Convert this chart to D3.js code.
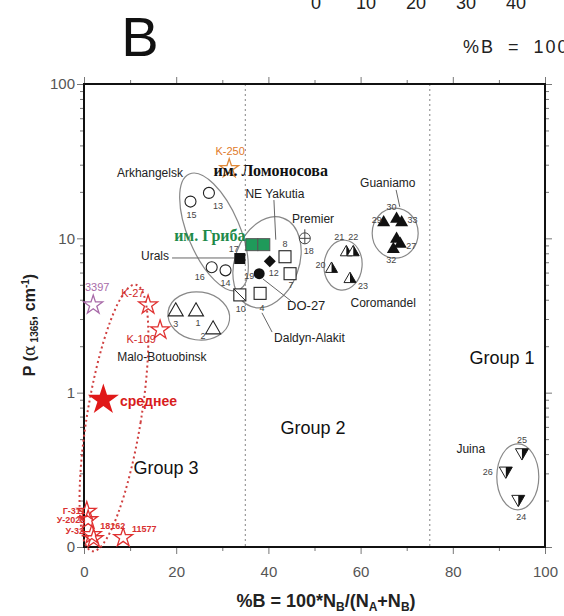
<!DOCTYPE html>
<html>
<head>
<meta charset="utf-8">
<script src="https://cdn.jsdelivr.net/npm/d3@7"></script>
<style>
  body { margin: 0; background: #fff; overflow: hidden; }
  svg { display: block; font-family: "Liberation Sans", Arial, sans-serif; }
</style>
</head>
<body>
<div id="chart"></div>
<script>
// --- DATOS ---
const xMajor = [0, 20, 40, 60, 80, 100];
const xMinor = [10, 30, 50, 70, 90];
const yMajor = [0.1, 1, 10, 100];
const yMajorLabels = ["0", "1", "10", "100"];
const groupBounds = [35, 75];
const headTicks = ["0", "10", "20", "30", "40"];

// kimberlite fields: id, %B, P
const arkhangelsk = [
  { id: "13", b: 27.1, p: 19.7 }, { id: "15", b: 23.1, p: 17.3 },
  { id: "16", b: 27.7, p: 6.5 }, { id: "14", b: 30.7, p: 6.2 }
];
const maloBotuobinsk = [
  { id: "3", b: 19.9, p: 3.4 }, { id: "1", b: 24.3, p: 3.4 }, { id: "2", b: 28.0, p: 2.6 }
];
const yakutiaOpen = [
  { id: "8", b: 43.6, p: 7.6 }, { id: "7", b: 44.7, p: 5.9 }, { id: "4", b: 38.2, p: 4.4 }
];
const yakutiaHalf = [{ id: "10", b: 33.8, p: 4.3 }];
const yakutiaGreen = [{ id: "", b: 36.4, p: 9.1 }, { id: "", b: 39.0, p: 9.1 }];
const urals = [{ id: "17", b: 33.8, p: 7.4 }];
const yakutiaDot = [{ id: "19", b: 38.0, p: 5.9 }];
const yakutiaDiamond = [{ id: "12", b: 40.3, p: 7.1 }];
const premier = [{ id: "18", b: 47.9, p: 10.0 }];
const coromandel = [
  { id: "21", b: 56.9, p: 8.2 }, { id: "22", b: 58.4, p: 8.2 },
  { id: "20", b: 53.7, p: 6.4 }, { id: "23", b: 57.7, p: 5.5 }
];
const guaniamo = [
  { id: "30", b: 67.8, p: 13.5 }, { id: "29", b: 65.0, p: 12.8 }, { id: "33", b: 68.9, p: 12.8 },
  { id: "", b: 67.8, p: 10.0 }, { id: "27", b: 68.6, p: 9.3 }, { id: "32", b: 67.1, p: 8.6 }
];
const juina = [
  { id: "25", b: 95.0, p: 0.405 }, { id: "26", b: 91.5, p: 0.308 }, { id: "24", b: 94.2, p: 0.202 }
];

// звёзды: отдельные образцы
const redStars = [
  { id: "K-27", b: 13.9, p: 3.7 }, { id: "K-109", b: 16.5, p: 2.55 },
  { id: "Г-311", b: 0.6, p: 0.17 }, { id: "У-2022", b: 0.9, p: 0.15 },
  { id: "У-32", b: 1.7, p: 0.12 }, { id: "18162", b: 2.1, p: 0.113 },
  { id: "11577", b: 8.5, p: 0.115 }
];
const purpleStars = [{ id: "3397", b: 2.0, p: 3.7 }];
const orangeStars = [{ id: "K-250", b: 31.5, p: 28.3 }];
const meanStar = [{ id: "среднее", b: 4.2, p: 0.90 }];

// --- ESCALAS ---
const W = 564, H = 616;
const x = d3.scaleLinear().domain([0, 100]).range([84, 545]);
const y = d3.scaleLog().domain([0.1, 100]).range([547, 84]);

const svg = d3.select("#chart").append("svg")
  .attr("width", W).attr("height", H);

// header remains from the neighbouring panel
svg.append("g").selectAll("text").data(headTicks).join("text")
  .attr("x", (d, i) => 316 + i * 50).attr("y", 9)
  .attr("text-anchor", "middle").attr("font-size", 18).attr("fill", "#222").text(d => d);
svg.append("text").attr("x", 463).attr("y", 53).attr("font-size", 18)
  .attr("fill", "#222").attr("letter-spacing", 2).attr("word-spacing", 6)
  .text("%B = 100*N");
svg.append("text").attr("x", 140).attr("y", 56).attr("font-size", 56)
  .attr("text-anchor", "middle").attr("fill", "#111").text("B");

// --- EJES ---
const minorY = [];
[0.1, 1, 10].forEach(d => { for (let k = 2; k <= 9; k++) minorY.push(d * k); });

function axisGroup(axis, tx, ty) {
  const g = svg.append("g").attr("transform", `translate(${tx},${ty})`).call(axis);
  g.select(".domain").remove();
  g.selectAll("line").attr("stroke", "#777");
  g.selectAll("text").attr("fill", "#555").attr("font-size", 15)
    .attr("font-family", "Liberation Sans, Arial, sans-serif");
  return g;
}
axisGroup(d3.axisBottom(x).tickValues(xMajor).tickSize(7).tickPadding(12).tickFormat(d3.format("d")), 0, 547);
axisGroup(d3.axisBottom(x).tickValues(xMinor).tickSize(4).tickFormat(""), 0, 547);
axisGroup(d3.axisTop(x).tickValues(xMajor).tickSize(7).tickFormat(""), 0, 84);
axisGroup(d3.axisTop(x).tickValues(xMinor).tickSize(4).tickFormat(""), 0, 84);
axisGroup(d3.axisLeft(y).tickValues(yMajor).tickSize(7).tickPadding(2)
  .tickFormat((d, i) => yMajorLabels[i]), 84, 0);
axisGroup(d3.axisLeft(y).tickValues(minorY).tickSize(4).tickFormat(""), 84, 0);
axisGroup(d3.axisRight(y).tickValues(yMajor).tickSize(7).tickFormat(""), 545, 0);
axisGroup(d3.axisRight(y).tickValues(minorY).tickSize(4).tickFormat(""), 545, 0);

// group separators
svg.append("g").selectAll("line").data(groupBounds).join("line")
  .attr("x1", d => x(d)).attr("x2", d => x(d))
  .attr("y1", y(100)).attr("y2", y(0.1))
  .attr("stroke", "#999").attr("stroke-width", 1.2).attr("stroke-dasharray", "2,3");

// frame
svg.append("rect").attr("x", x(0)).attr("y", y(100))
  .attr("width", x(100) - x(0)).attr("height", y(0.1) - y(100))
  .attr("fill", "none").attr("stroke", "#111").attr("stroke-width", 2);

// axis titles
svg.append("text").attr("x", 326).attr("y", 607).attr("text-anchor", "middle")
  .attr("font-size", 18).attr("font-weight", "bold").attr("fill", "#222")
  .html('%B = 100*N<tspan dy="4" font-size="12">B</tspan><tspan dy="-4">/(N</tspan><tspan dy="4" font-size="12">A</tspan><tspan dy="-4">+N</tspan><tspan dy="4" font-size="12">B</tspan><tspan dy="-4">)</tspan>');
svg.append("text").attr("transform", "translate(35,325) rotate(-90)")
  .attr("text-anchor", "middle").attr("font-size", 16).attr("font-weight", "bold").attr("fill", "#222")
  .html('P (<tspan font-family="DejaVu Serif, serif" font-weight="normal">α</tspan><tspan font-size="10" dy="3"> 1365</tspan><tspan dy="-3">, cm</tspan><tspan font-size="10" dy="-6">-1</tspan><tspan dy="6">)</tspan>');

// --- ELIPSES ---
const ellipses = [
  { b: 28.2, p: 11.0, rx: 26, ry: 63, rot: -23, color: "#888", dash: null },
  { b: 24.9, p: 3.14, rx: 31, ry: 24, rot: 8, color: "#888", dash: null },
  { b: 39.7, p: 7.0, rx: 32, ry: 47, rot: 20, color: "#888", dash: null },
  { b: 56.2, p: 6.7, rx: 19, ry: 25, rot: 5, color: "#888", dash: null },
  { b: 67.5, p: 10.8, rx: 23, ry: 25, rot: 0, color: "#888", dash: null },
  { b: 94.1, p: 0.285, rx: 21, ry: 33, rot: 0, color: "#888", dash: null },
  { b: 6.5, p: 0.686, rx: 27, ry: 135, rot: 9.3, color: "#d04040", dash: "2,3" }
];
svg.append("g").selectAll("ellipse").data(ellipses).join("ellipse")
  .attr("transform", d => `translate(${x(d.b)},${y(d.p)}) rotate(${d.rot})`)
  .attr("rx", d => d.rx).attr("ry", d => d.ry)
  .attr("fill", "none").attr("stroke", d => d.color)
  .attr("stroke-width", d => d.dash ? 2 : 1.2)
  .attr("stroke-dasharray", d => d.dash);

// leader lines
const leaders = [
  [19.1, 7.46, 32.6, 7.46], [41.2, 17.7, 41.6, 9.8], [44.9, 3.93, 38.8, 5.46],
  [40.8, 2.47, 38.6, 3.29], [67.7, 20.6, 68.5, 16.0]
];
svg.append("g").selectAll("line").data(leaders).join("line")
  .attr("x1", d => x(d[0])).attr("y1", d => y(d[1]))
  .attr("x2", d => x(d[2])).attr("y2", d => y(d[3]))
  .attr("stroke", "#666").attr("stroke-width", 1);

// --- MARCADORES ---
function triPath(s, down) {
  const h = s * 0.87, k = down ? -1 : 1;
  return `M0,${-k * h * 0.6}L${s / 2},${k * h * 0.4}L${-s / 2},${k * h * 0.4}Z`;
}
function halfTriPath(s, down) {
  const h = s * 0.87, k = down ? -1 : 1;
  return `M0,${-k * h * 0.6}L${s / 2},${k * h * 0.4}L0,${k * h * 0.4}Z`;
}
const gMarks = svg.append("g");
function marks(data, draw) {
  const g = gMarks.append("g").selectAll("g").data(data).join("g")
    .attr("transform", d => `translate(${x(d.b)},${y(d.p)})`);
  draw(g);
  return g;
}
marks(arkhangelsk, g => g.append("circle").attr("r", 5.5).attr("fill", "#fff").attr("stroke", "#222").attr("stroke-width", 1.1));
marks(maloBotuobinsk, g => g.append("path").attr("d", triPath(15, false)).attr("fill", "#fff").attr("stroke", "#222").attr("stroke-width", 1.1));
marks(yakutiaOpen, g => g.append("rect").attr("x", -6).attr("y", -6).attr("width", 12).attr("height", 12).attr("fill", "#fff").attr("stroke", "#222").attr("stroke-width", 1.1));
marks(yakutiaHalf, g => {
  g.append("rect").attr("x", -6).attr("y", -6).attr("width", 12).attr("height", 12).attr("fill", "#fff").attr("stroke", "#222").attr("stroke-width", 1.1);
  g.append("line").attr("x1", -6).attr("y1", -6).attr("x2", 6).attr("y2", 6).attr("stroke", "#222");
});
marks(yakutiaGreen, g => g.append("rect").attr("x", -6).attr("y", -6).attr("width", 12).attr("height", 12).attr("fill", "#1f9a5a").attr("stroke", "#555").attr("stroke-width", 1));
marks(urals, g => g.append("rect").attr("x", -5.5).attr("y", -5.5).attr("width", 11).attr("height", 11).attr("fill", "#111"));
marks(yakutiaDot, g => g.append("circle").attr("r", 5.5).attr("fill", "#111"));
marks(yakutiaDiamond, g => g.append("path").attr("d", "M0,-6L6,0L0,6L-6,0Z").attr("fill", "#111"));
marks(premier, g => {
  g.append("circle").attr("r", 5.5).attr("fill", "#fff").attr("stroke", "#444");
  g.append("path").attr("d", "M-5.5,0H5.5M0,-9V5.5").attr("stroke", "#444");
});
marks(coromandel, g => {
  g.append("path").attr("d", triPath(12, false)).attr("fill", "#fff").attr("stroke", "#222");
  g.append("path").attr("d", halfTriPath(12, false)).attr("fill", "#111");
});
marks(guaniamo, g => g.append("path").attr("d", triPath(13, false)).attr("fill", "#111"));
marks(juina, g => {
  g.append("path").attr("d", triPath(13, true)).attr("fill", "#fff").attr("stroke", "#222");
  g.append("path").attr("d", halfTriPath(13, true)).attr("fill", "#111");
});

const star = d3.symbol().type(d3.symbolStar);
marks(redStars, g => g.append("path").attr("d", star.size(110)()).attr("fill", "none").attr("stroke", "#e03030").attr("stroke-width", 1.3));
marks(purpleStars, g => g.append("path").attr("d", star.size(110)()).attr("fill", "none").attr("stroke", "#a86aa8").attr("stroke-width", 1.3));
marks(orangeStars, g => g.append("path").attr("d", star.size(110)()).attr("fill", "none").attr("stroke", "#e08a3a").attr("stroke-width", 1.3));
marks(meanStar, g => g.append("path").attr("d", star.size(300)()).attr("fill", "#e01818"));

// sample numbers (offsets in px)
const numOffsets = {
  "13": [9, 13], "15": [1, 13], "16": [-12, 10], "14": [0, 12],
  "3": [0, 13], "1": [2, 12], "2": [-10, 7],
  "8": [0, -13], "7": [1, 11], "4": [2, 14], "10": [1, 14],
  "17": [-6, -10], "19": [-10, 2], "12": [4, 12], "18": [4, 13],
  "21": [-7, -15], "22": [0, -15], "20": [-11, -3], "23": [13, 7],
  "30": [-5, -11], "29": [-7, -2], "33": [11, -2], "27": [11, 3], "32": [-2, 11],
  "25": [0, -13], "26": [-18, 0], "24": [3, 17]
};
const numbered = [].concat(arkhangelsk, maloBotuobinsk, yakutiaOpen, yakutiaHalf, urals,
  yakutiaDot, yakutiaDiamond, premier, coromandel, guaniamo, juina).filter(d => d.id);
svg.append("g").selectAll("text").data(numbered).join("text")
  .attr("x", d => x(d.b) + (numOffsets[d.id] || [0, 0])[0])
  .attr("y", d => y(d.p) + (numOffsets[d.id] || [0, 0])[1])
  .attr("text-anchor", "middle").attr("dy", "0.35em")
  .attr("font-size", 9).attr("fill", "#444").text(d => d.id);

// --- ANOTACIONES ---
const notes = [
  { t: "Arkhangelsk", b: 14.3, p: 26.5, size: 12, color: "#222" },
  { t: "NE Yakutia", b: 41.4, p: 19.4, size: 12, color: "#222" },
  { t: "Urals", b: 15.4, p: 7.69, size: 12, color: "#222" },
  { t: "Premier", b: 49.7, p: 13.4, size: 12, color: "#222" },
  { t: "Guaniamo", b: 65.9, p: 22.9, size: 12, color: "#222" },
  { t: "Coromandel", b: 64.9, p: 3.81, size: 12, color: "#222" },
  { t: "DO-27", b: 48.2, p: 3.70, size: 13, color: "#222" },
  { t: "Daldyn-Alakit", b: 48.9, p: 2.26, size: 12, color: "#222" },
  { t: "Malo-Botuobinsk", b: 16.9, p: 1.70, size: 12, color: "#222" },
  { t: "Juina", b: 83.9, p: 0.431, size: 12, color: "#222" },
  { t: "Group 1", b: 90.7, p: 1.68, size: 18, color: "#111" },
  { t: "Group 2", b: 49.7, p: 0.59, size: 18, color: "#111" },
  { t: "Group 3", b: 17.8, p: 0.325, size: 18, color: "#111" },
  { t: "K-250", b: 31.7, p: 36.8, size: 11, color: "#e07a2a" },
  { t: "K-27", b: 10.6, p: 4.43, size: 11, color: "#d02828" },
  { t: "K-109", b: 12.4, p: 2.23, size: 11, color: "#d02828" }
];
svg.append("g").selectAll("text").data(notes).join("text")
  .attr("x", d => x(d.b)).attr("y", d => y(d.p)).attr("dy", "0.35em")
  .attr("text-anchor", "middle").attr("font-size", d => d.size)
  .attr("fill", d => d.color).text(d => d.t);

// подписи на русском
const ruNotes = [
  { t: "им. Ломоносова", b: 40.5, p: 27.7, color: "#111" },
  { t: "им. Гриба", b: 27.3, p: 10.5, color: "#1f8a4a" }
];
svg.append("g").selectAll("text").data(ruNotes).join("text")
  .attr("x", d => x(d.b)).attr("y", d => y(d.p)).attr("dy", "0.35em")
  .attr("text-anchor", "middle").attr("font-size", 16).attr("font-weight", "bold")
  .attr("font-family", "Liberation Serif, DejaVu Serif, serif")
  .attr("fill", d => d.color).text(d => d.t);

svg.append("text").attr("x", x(7.8)).attr("y", y(0.883)).attr("dy", "0.35em")
  .attr("font-size", 14).attr("font-weight", "bold").attr("fill", "#d81c1c").text("среднее");
svg.append("text").attr("x", x(0.2)).attr("y", y(4.84)).attr("dy", "0.35em")
  .attr("font-size", 11).attr("fill", "#a86aa8").text("3397");

const smallRed = [
  { t: "Г-311", b: 0.3, p: 0.172, anchor: "end" },
  { t: "У-2022", b: 0.3, p: 0.149, anchor: "end" },
  { t: "У-32", b: 0.0, p: 0.127, anchor: "end" },
  { t: "18162", b: 3.5, p: 0.137, anchor: "start" },
  { t: "11577", b: 10.4, p: 0.132, anchor: "start" }
];
svg.append("g").selectAll("text").data(smallRed).join("text")
  .attr("x", d => x(d.b)).attr("y", d => y(d.p)).attr("dy", "0.35em")
  .attr("text-anchor", d => d.anchor).attr("font-size", 9).attr("font-weight", "bold")
  .attr("fill", "#d83030").text(d => d.t);
</script>
</body>
</html>
